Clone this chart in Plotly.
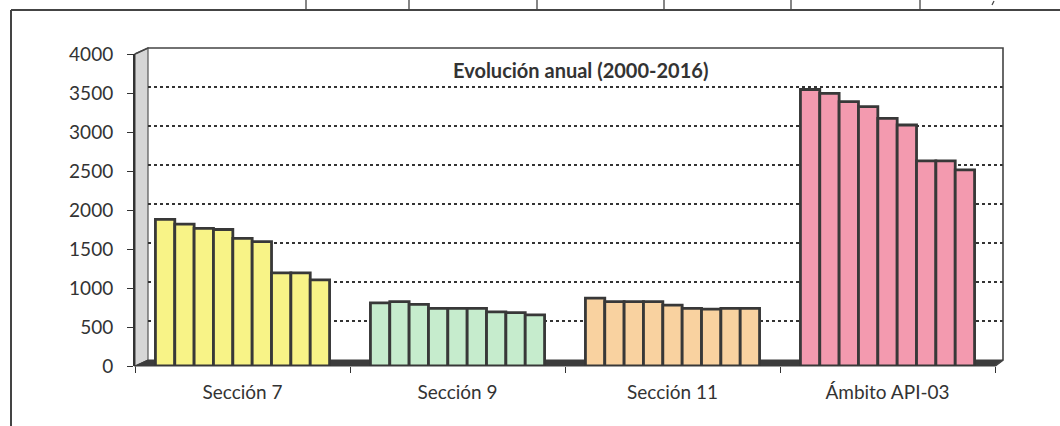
import plotly.graph_objects as go

# ---------------- data ----------------
categories = ["Sección 7", "Sección 9", "Sección 11", "Ámbito API-03"]
years = ["2000", "2002", "2004", "2006", "2008", "2010", "2012", "2014", "2016"]
seccion_7 = [1880, 1820, 1765, 1750, 1635, 1595, 1195, 1195, 1105]
seccion_9 = [810, 825, 790, 740, 740, 740, 695, 685, 655]
seccion_11 = [870, 825, 825, 825, 780, 740, 730, 740, 740]
ambito_api03 = [3545, 3495, 3390, 3325, 3175, 3090, 2630, 2630, 2515]
y_ticks = [0, 500, 1000, 1500, 2000, 2500, 3000, 3500, 4000]
title_text = "Evolución anual (2000-2016)"

group_colors = ["#F8F387", "#C6ECCD", "#F9D2A0", "#F39AAF"]
dark = "#383838"
font_family = "Lato, 'Open Sans', sans-serif"

W, H = 1060, 426
ML, MR, MT, MB = 135, 57, 48, 60
PW, PH = W - ML - MR, H - MT - MB


def xp(px):
    return (px - ML) / PW


def yp(py):
    return (H - MB - py) / PH


fig = go.Figure()

# invisible trace for the back-wall (gridline) subplot
fig.add_trace(go.Scatter(x=[0], y=[0], xaxis="x", yaxis="y", mode="markers",
                         marker=dict(opacity=0), hoverinfo="skip", showlegend=False))

series = [seccion_7, seccion_9, seccion_11, ambito_api03]
for i, yr in enumerate(years):
    fig.add_trace(go.Bar(
        x=categories,
        y=[s[i] for s in series],
        name=yr,
        xaxis="x2", yaxis="y2",
        marker=dict(color=group_colors, line=dict(color=dark, width=2.8)),
        showlegend=False,
    ))

shapes = []
# left side wall
shapes.append(dict(type="path", xref="paper", yref="paper",
                   path=f"M {xp(135)},{yp(366)} L {xp(135)},{yp(54)} L {xp(148)},{yp(48)} L {xp(148)},{yp(360)} Z",
                   fillcolor="#d6d6d6", line=dict(color="#555", width=1.2), layer="below"))
# floor
shapes.append(dict(type="path", xref="paper", yref="paper",
                   path=f"M {xp(135)},{yp(366)} L {xp(148)},{yp(360)} L {xp(1003)},{yp(360)} L {xp(995)},{yp(366)} Z",
                   fillcolor="#3c3c3c", line=dict(color="#3c3c3c", width=1), layer="below"))
# back wall top edge & right edge
shapes.append(dict(type="path", xref="paper", yref="paper",
                   path=f"M {xp(135)},{yp(54)} L {xp(148)},{yp(48)} L {xp(1003)},{yp(48)} L {xp(1003)},{yp(360)} L {xp(995)},{yp(366)}",
                   line=dict(color="#444", width=1.6)))
# page frame lines (scanned document)
shapes.append(dict(type="line", xref="paper", yref="paper",
                   x0=xp(11), x1=xp(1060), y0=yp(10), y1=yp(10), line=dict(color="#444", width=2)))
shapes.append(dict(type="line", xref="paper", yref="paper",
                   x0=xp(11), x1=xp(11), y0=yp(10), y1=yp(426), line=dict(color="#444", width=2)))
for sx in [306, 409, 537, 664, 791, 920]:
    shapes.append(dict(type="line", xref="paper", yref="paper",
                       x0=xp(sx), x1=xp(sx), y0=yp(0), y1=yp(10), line=dict(color="#444", width=1.3)))
shapes.append(dict(type="line", xref="paper", yref="paper",
                   x0=xp(994), x1=xp(992), y0=yp(1), y1=yp(5), line=dict(color="#444", width=1.3)))

fig.update_layout(
    width=W, height=H,
    margin=dict(l=ML, r=MR, t=MT, b=MB),
    paper_bgcolor="white", plot_bgcolor="rgba(0,0,0,0)",
    barmode="group", bargap=0.19, bargroupgap=0,
    font=dict(family=font_family, color="#333"),
    shapes=shapes,
    xaxis=dict(domain=[xp(148), 1], range=[0, 1], anchor="y",
               showgrid=False, zeroline=False, showticklabels=False, ticks="", showline=False),
    yaxis=dict(domain=[yp(360), 1], range=[0, 4000], anchor="x",
               tickvals=y_ticks, showgrid=True, gridcolor="#333", griddash="dot", gridwidth=1.8,
               zeroline=False, showticklabels=False, ticks="", showline=False),
    xaxis2=dict(domain=[0, xp(995)], anchor="y2", type="category",
                tickson="boundaries", ticks="outside", ticklen=6, tickcolor="#333", tickwidth=1.3,
                showline=False, showgrid=False, zeroline=False,
                tickfont=dict(size=19, color="#333"), ticklabelstandoff=13),
    yaxis2=dict(domain=[0, yp(54)], range=[0, 4000], anchor="x2",
                tickvals=y_ticks, ticks="outside", ticklen=6, tickcolor="#333", tickwidth=1.3,
                showline=True, linecolor="#333", linewidth=2,
                showgrid=False, zeroline=False,
                tickfont=dict(size=19, color="#333"), ticklabelstandoff=10),
    annotations=[dict(text=f"<b>{title_text}</b>", xref="paper", yref="paper",
                      x=xp(580), y=yp(70), xanchor="center", yanchor="middle",
                      showarrow=False, font=dict(size=20, color="#333", family=font_family))],
)

fig.write_html("out.html", config={"displayModeBar": False},
               post_script="document.body.style.margin='0';")
